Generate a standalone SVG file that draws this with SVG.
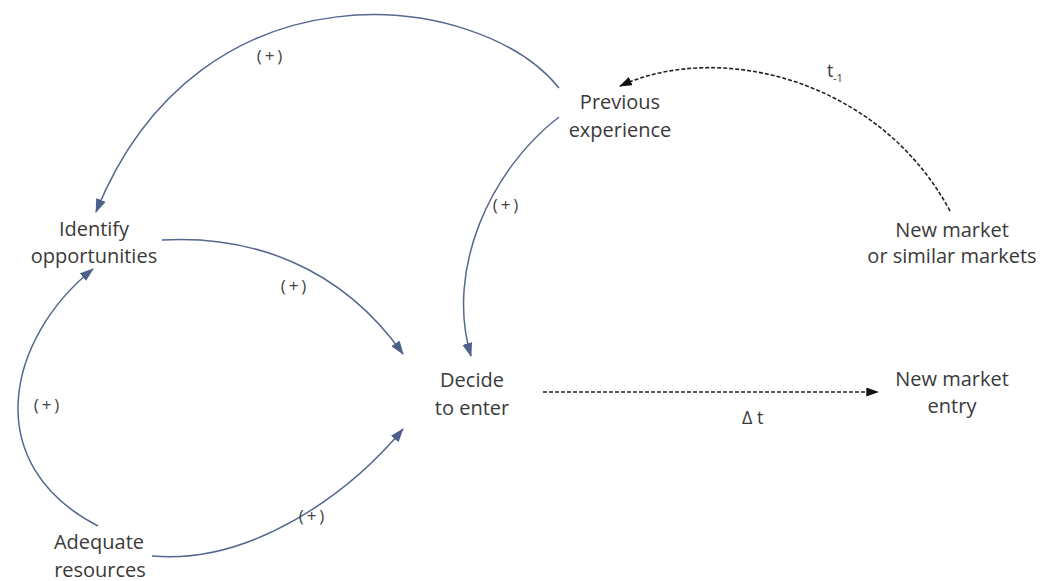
<svg xmlns="http://www.w3.org/2000/svg" width="1042" height="581" viewBox="0 0 1042 581">
<defs>
<style>
.node{font-family:"Open Sans","Liberation Sans",sans-serif;font-size:20px;fill:#3a3a3a;text-anchor:middle}
.sign{font-family:"Open Sans","Liberation Sans",sans-serif;font-size:17px;fill:#444;text-anchor:middle;letter-spacing:3px}
.lbl{font-family:"Open Sans","Liberation Sans",sans-serif;font-size:18px;fill:#3a3a3a}
.sub{font-family:"Open Sans","Liberation Sans",sans-serif;font-size:11px;fill:#3a3a3a}
.link{fill:none;stroke:#566890;stroke-width:1.5;marker-end:url(#ab)}
.dash{fill:none;stroke:#222;stroke-width:1.6;stroke-dasharray:4 2;marker-end:url(#ak)}
</style>
<marker id="ab" viewBox="0 0 14 10" refX="13" refY="5" markerWidth="14" markerHeight="10" markerUnits="userSpaceOnUse" orient="auto">
<path d="M0,0 L14,5 L0,10 Z" fill="#4d6089"/>
</marker>
<marker id="ak" viewBox="0 0 14 10" refX="13" refY="5" markerWidth="13" markerHeight="9" markerUnits="userSpaceOnUse" orient="auto">
<path d="M0,0 L14,5 L0,10 Z" fill="#111"/>
</marker>
</defs>
<rect width="1042" height="581" fill="#fff"/>
<g id="connectors">
<path class="link" d="M559,88 C480,-10 200,-45 96,212"/>
<path class="link" d="M559,117 C490,170 445,270 471,356"/>
<path class="link" d="M162,240 C250,235 340,265 403,354"/>
<path class="link" d="M98,526 C-22,464 7,338 93,269"/>
<path class="link" d="M152,556 C250,565 348,495 403,429"/>
<path class="dash" d="M950,211 C880,80 720,40 620,86"/>
<path class="dash" d="M543,392 L878,392"/>
<text class="sign" x="271" y="62">(+)</text>
<text class="sign" x="507" y="211">(+)</text>
<text class="sign" x="295" y="292">(+)</text>
<text class="sign" x="48" y="411">(+)</text>
<text class="sign" x="313" y="522">(+)</text>
<text class="lbl" x="827" y="77">t</text><text class="sub" x="833" y="82">-1</text>
<text class="lbl" x="742" y="424">Δ t</text>
</g>
<g id="previous-experience">
<text class="node" x="620" y="109">Previous</text>
<text class="node" x="620" y="137">experience</text>
</g>
<g id="identify-opportunities">
<text class="node" x="94" y="236">Identify</text>
<text class="node" x="94" y="263">opportunities</text>
</g>
<g id="new-market-similar">
<text class="node" x="952" y="237">New market</text>
<text class="node" x="952" y="263">or similar markets</text>
</g>
<g id="decide-to-enter">
<text class="node" x="472" y="387">Decide</text>
<text class="node" x="472" y="415">to enter</text>
</g>
<g id="new-market-entry">
<text class="node" x="952" y="386">New market</text>
<text class="node" x="952" y="413">entry</text>
</g>
<g id="adequate-resources">
<text class="node" x="99" y="549">Adequate</text>
<text class="node" x="100" y="577">resources</text>
</g>
</svg>
